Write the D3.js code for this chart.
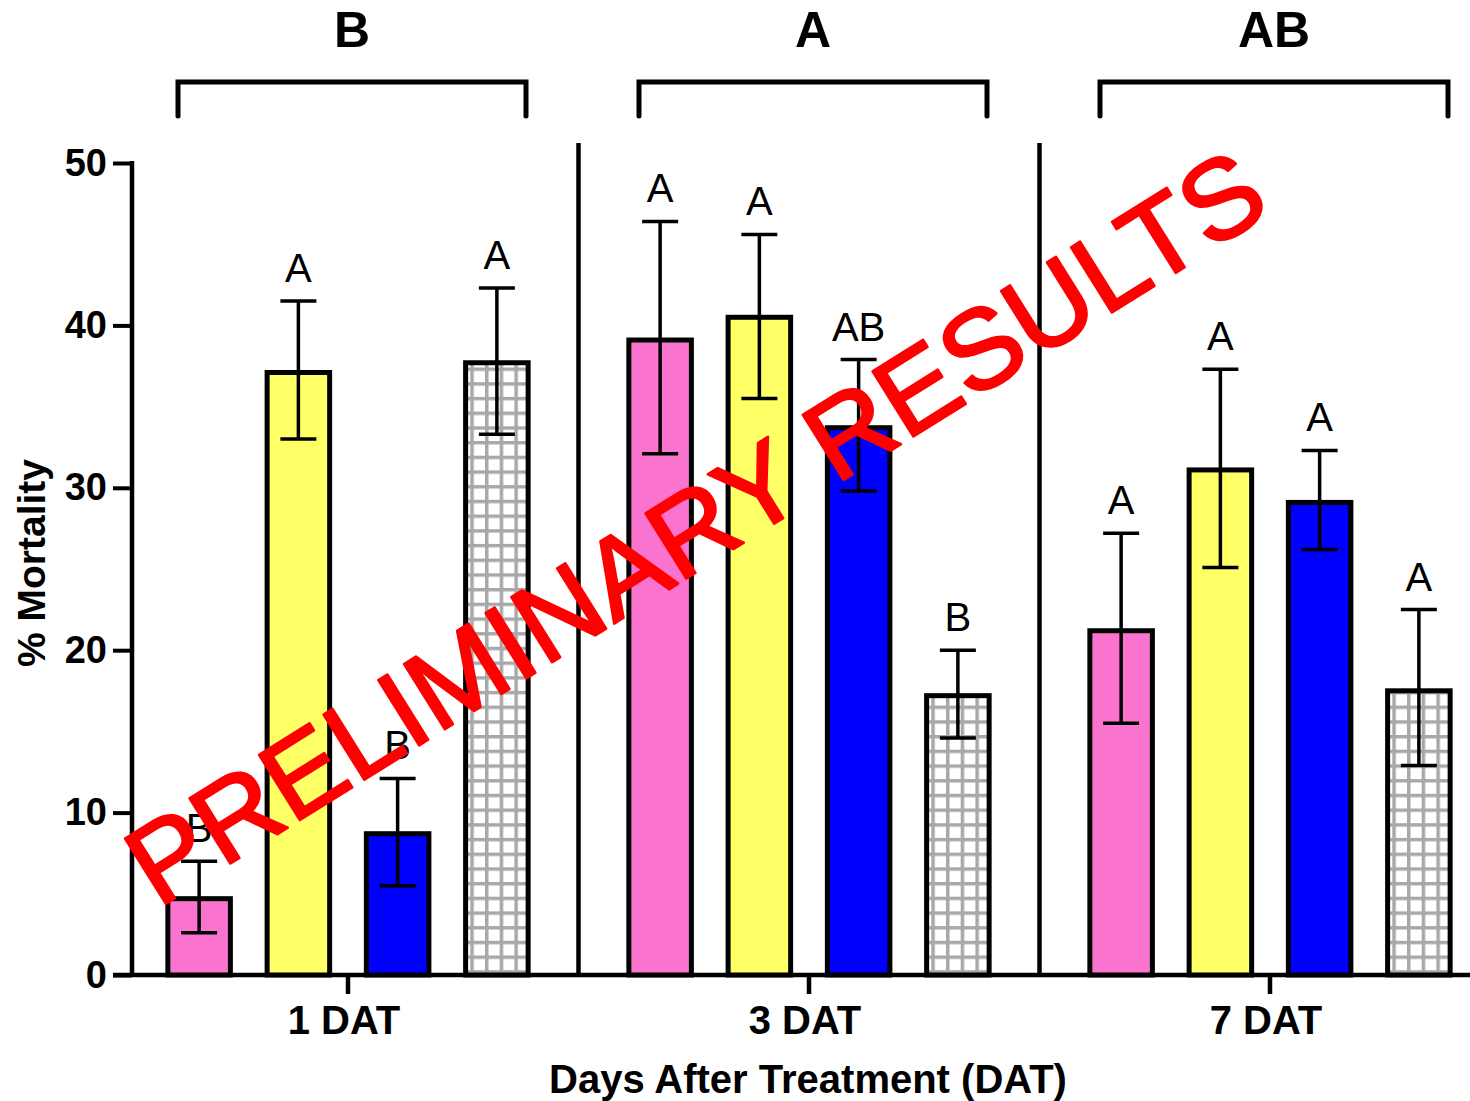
<!DOCTYPE html>
<html lang="en">
<head>
<meta charset="UTF-8">
<title>% Mortality by DAT</title>
<script src="https://d3js.org/d3.v7.min.js"></script>
<style>
  body { margin: 0; background: #fff; }
  text { font-family: "Liberation Sans", Arial, Helvetica, sans-serif; }
</style>
</head>
<body>
<div id="chart"></div>
<script>
// data
const days = ["1 DAT", "3 DAT", "7 DAT"];
const dayLetters = ["B", "A", "AB"];
const treatments = ["t1", "t2", "t3", "t4"];
const means = [
  [4.7, 37.1, 8.7, 37.7],
  [39.1, 40.5, 33.7, 17.2],
  [21.2, 31.1, 29.1, 17.5]
];
const errHi = [
  [7.0, 41.5, 12.1, 42.3],
  [46.4, 45.6, 37.9, 20.0],
  [27.2, 37.3, 32.3, 22.5]
];
const errLo = [
  [2.6, 33.0, 5.5, 33.3],
  [32.1, 35.5, 29.8, 14.6],
  [15.5, 25.1, 26.2, 12.9]
];
const letters = [
  ["B", "A", "B", "A"],
  ["A", "A", "AB", "B"],
  ["A", "A", "A", "A"]
];
const yTicks = [0, 10, 20, 30, 40, 50];

const width = 1470, height = 1101;
const svg = d3.select("#chart").append("svg")
  .attr("width", width).attr("height", height);

const defs = svg.append("defs");
const pat = defs.append("pattern")
  .attr("id", "grid").attr("patternUnits", "userSpaceOnUse")
  .attr("width", 14.7).attr("height", 14.7);
pat.append("rect").attr("width", 14.7).attr("height", 14.7).attr("fill", "#fff");
pat.append("path").attr("d", "M1.5,0V14.7M0,1.5H14.7")
  .attr("stroke", "#a8a8a8").attr("stroke-width", 4);

const fills = ["#fa74cf", "#ffff66", "#0000ff", "url(#grid)"];

const y = d3.scaleLinear().domain([0, 50]).range([975, 163]);
const x0 = d3.scaleBand().domain(days).range([117.5, 1500.5]);
const x1 = d3.scaleBand().domain(treatments).range([32, 429])
  .paddingInner(0.37).paddingOuter(0.185);

// y axis
const yAxis = svg.append("g").attr("transform", "translate(132,0)")
  .call(d3.axisLeft(y).tickValues(yTicks).tickSize(19).tickPadding(6));
yAxis.select(".domain").remove();
yAxis.selectAll(".tick line").attr("stroke-width", 4);
yAxis.selectAll(".tick text").attr("font-size", 38).attr("font-weight", "bold")
  .attr("fill", "#000");
svg.append("line").attr("x1", 132).attr("x2", 132)
  .attr("y1", y(50) - 2).attr("y2", y(0) + 2)
  .attr("stroke", "#000").attr("stroke-width", 4.5);

// x axis
const xAxis = svg.append("g").attr("transform", "translate(0,975)")
  .call(d3.axisBottom(x0).tickSize(19).tickPadding(12));
xAxis.select(".domain").remove();
xAxis.selectAll(".tick line").attr("stroke-width", 4.5);
xAxis.selectAll(".tick text").attr("font-size", 40).attr("font-weight", "bold")
  .attr("fill", "#000").attr("dx", -4);
svg.append("line").attr("x1", 113).attr("x2", width)
  .attr("y1", 975).attr("y2", 975)
  .attr("stroke", "#000").attr("stroke-width", 4.5);

// separators between day groups
svg.selectAll(".sep").data(days.slice(1)).join("line")
  .attr("class", "sep")
  .attr("x1", d => x0(d)).attr("x2", d => x0(d))
  .attr("y1", 143).attr("y2", 975)
  .attr("stroke", "#000").attr("stroke-width", 4.5);

// bars
const groups = svg.selectAll(".grp").data(days).join("g")
  .attr("class", "grp")
  .attr("transform", d => `translate(${x0(d)},0)`);

groups.each(function (day, gi) {
  const g = d3.select(this);
  const rows = treatments.map((t, i) => ({
    t, i, v: means[gi][i], hi: errHi[gi][i], lo: errLo[gi][i], lab: letters[gi][i]
  }));
  g.selectAll("rect").data(rows).join("rect")
    .attr("x", d => x1(d.t))
    .attr("y", d => y(d.v))
    .attr("width", x1.bandwidth())
    .attr("height", d => y(0) - y(d.v))
    .attr("fill", d => fills[d.i])
    .attr("stroke", "#000").attr("stroke-width", 5);

  const cx = d => x1(d.t) + x1.bandwidth() / 2;
  g.selectAll(".ev").data(rows).join("line").attr("class", "ev")
    .attr("x1", cx).attr("x2", cx)
    .attr("y1", d => y(d.hi)).attr("y2", d => y(d.lo))
    .attr("stroke", "#000").attr("stroke-width", 3.5);
  g.selectAll(".ct").data(rows).join("line").attr("class", "ct")
    .attr("x1", d => cx(d) - 18).attr("x2", d => cx(d) + 18)
    .attr("y1", d => y(d.hi)).attr("y2", d => y(d.hi))
    .attr("stroke", "#000").attr("stroke-width", 3.5);
  g.selectAll(".cb").data(rows).join("line").attr("class", "cb")
    .attr("x1", d => cx(d) - 18).attr("x2", d => cx(d) + 18)
    .attr("y1", d => y(d.lo)).attr("y2", d => y(d.lo))
    .attr("stroke", "#000").attr("stroke-width", 3.5);
  g.selectAll(".lab").data(rows).join("text").attr("class", "lab")
    .attr("x", cx).attr("y", d => y(d.hi) - 19)
    .attr("text-anchor", "middle").attr("font-size", 40)
    .text(d => d.lab);

  // bracket + day letter on top
  const mid = x0.bandwidth() / 2 + 4;
  g.append("path")
    .attr("d", `M${mid - 174},116V82H${mid + 174}V116`)
    .attr("fill", "none").attr("stroke", "#000").attr("stroke-width", 5)
    .attr("stroke-linecap", "round");
  g.append("text").attr("x", mid).attr("y", 47)
    .attr("text-anchor", "middle").attr("font-size", 50).attr("font-weight", "bold")
    .text(dayLetters[gi]);
});

// axis titles
svg.append("text").attr("x", 808).attr("y", 1093)
  .attr("text-anchor", "middle").attr("font-size", 40).attr("font-weight", "bold")
  .text("Days After Treatment (DAT)");
svg.append("text")
  .attr("transform", "translate(45,563) rotate(-90)")
  .attr("text-anchor", "middle").attr("font-size", 39).attr("font-weight", "bold")
  .text("% Mortality");

// watermark
svg.append("text")
  .attr("transform", "translate(716,560) rotate(-32)")
  .attr("text-anchor", "middle")
  .attr("font-size", 112).attr("fill", "#ff0000")
  .attr("stroke", "#ff0000").attr("stroke-width", 2.5).attr("stroke-linejoin", "round")
  .attr("textLength", 1316).attr("lengthAdjust", "spacingAndGlyphs")
  .text("PRELIMINARY RESULTS");
</script>
</body>
</html>
